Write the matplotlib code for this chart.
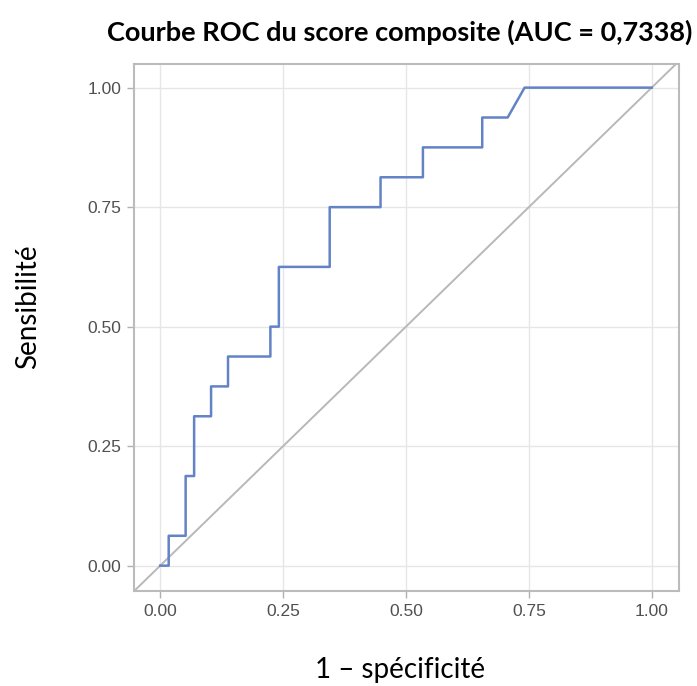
import matplotlib
matplotlib.use("Agg")
import matplotlib.pyplot as plt
import numpy as np

# ROC data (counts out of 58 negatives / 16 positives)
n_neg = 58
n_pos = 16
fp_counts = [0, 1, 1, 3, 3, 4, 4, 6, 6, 8, 8, 13, 13, 14, 14, 20, 20, 26, 26, 31, 31, 38, 38, 41, 43, 58]
tp_counts = [0, 0, 1, 1, 3, 3, 5, 5, 6, 6, 7, 7, 8, 8, 10, 10, 12, 12, 13, 13, 14, 14, 15, 15, 16, 16]
ticks = [0.0, 0.25, 0.5, 0.75, 1.0]
tick_labels = ["0.00", "0.25", "0.50", "0.75", "1.00"]
title = "Courbe ROC du score composite (AUC = 0,7338)"
xlabel = "1 – spécificité"
ylabel = "Sensibilité"

fpr = np.array(fp_counts) / n_neg
tpr = np.array(tp_counts) / n_pos

fig = plt.figure(figsize=(6.97, 6.86), dpi=100)
ax = fig.add_axes([0.1918, 0.1378, 0.9738 - 0.1918, 0.9071 - 0.1378])

ax.set_xlim(-0.054, 1.055)
ax.set_ylim(-0.054, 1.05)
ax.grid(True, color="#e6e6e6", lw=1.0)
ax.set_axisbelow(True)
ax.axline((0, 0), slope=1, color="#b8b8b8", lw=1.4, zorder=2)
ax.plot(fpr, tpr, color="#6383c6", lw=1.8, zorder=3)

ax.set_xticks(ticks)
ax.set_xticklabels(tick_labels)
ax.set_yticks(ticks)
ax.set_yticklabels(tick_labels)
for lab in ax.get_xticklabels() + ax.get_yticklabels():
    lab.set_fontfamily("Liberation Sans")
    lab.set_fontsize(12.5)
    lab.set_color("#505050")
ax.tick_params(length=5, width=1, color="#b0b0b0", pad=4)
for sp in ax.spines.values():
    sp.set_color("#bbbbbb")
    sp.set_linewidth(1.5)

fig.text(0.574, 0.953, title, ha="center", va="center", fontsize=19.5,
         fontweight="bold", family="Lato")
fig.text(0.574, 0.024, xlabel, ha="center", va="center", fontsize=20, family="Lato")
fig.text(0.041, 0.5525, ylabel, ha="center", va="center", rotation=90,
         fontsize=20, family="Lato")

fig.savefig("out.png", dpi=100, facecolor="white")
